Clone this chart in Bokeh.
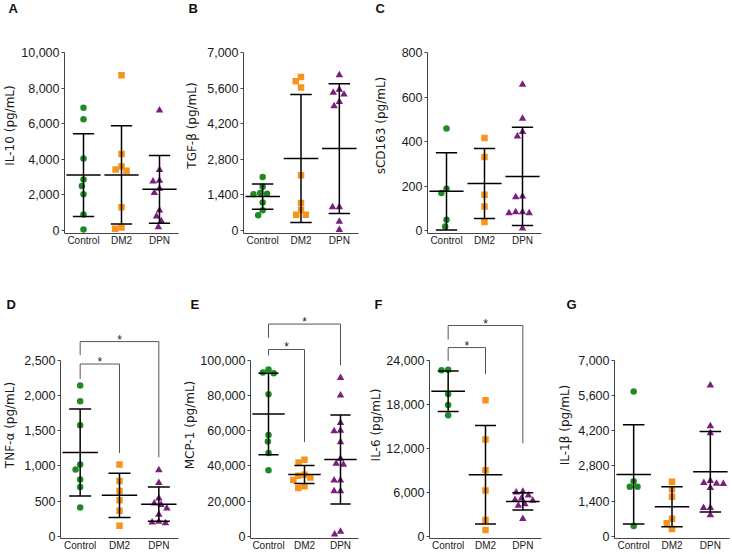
import math
from bokeh.plotting import figure
from bokeh.models import Range1d, FixedTicker, NumeralTickFormatter
from bokeh.layouts import column, row
from bokeh.embed import file_html
from bokeh.resources import INLINE
from bokeh.core.properties import value

groups = ["Control", "DM2", "DPN"]
group_colors = ["#1f8a24", "#f7941d", "#7b1f7f"]
group_markers = ["circle", "square", "triangle"]

# ---- A: IL-10 ----
il10_control = [6890, 6250, 4050, 2870, 2500, 2030, 900, 50]
il10_dm2 = [8720, 4300, 3600, 3360, 3430, 1310, 100, 170]
il10_dpn = [6750, 3410, 2800, 2760, 2350, 2120, 1130, 790, 530, 190]
il10_mean = [3115, 3125, 2315]
il10_sd = [2325, 2765, 1905]
il10_ticks = [0, 2000, 4000, 6000, 8000, 10000]

# ---- B: TGF-beta ----
tgfb_control = [2100, 1720, 1470, 1450, 1430, 1100, 800, 600]
tgfb_dm2 = [6040, 5870, 5620, 2170, 1080, 810, 620, 620]
tgfb_dpn = [6110, 5545, 5425, 5350, 5060, 4890, 920, 920, 355, 25]
tgfb_mean = [1335, 2830, 3220]
tgfb_sd = [495, 2520, 2550]
tgfb_ticks = [0, 1400, 2800, 4200, 5600, 7000]

# ---- C: sCD163 ----
scd163_control = [458, 188, 168, 48, 18]
scd163_dm2 = [416, 330, 161, 108, 38]
scd163_dpn = [656, 503, 443, 423, 153, 150, 83, 83, 78, 78, 10]
scd163_mean = [176, 211, 243]
scd163_sd = [174, 157, 221]
scd163_ticks = [0, 200, 400, 600, 800]

# ---- D: TNF-alpha ----
tnfa_control = [2140, 1916, 1575, 1019, 949, 808, 701, 411]
tnfa_dm2 = [1019, 785, 645, 514, 364, 154]
tnfa_dpn = [940, 760, 540, 470, 450, 400, 310, 210, 200, 190]
tnfa_mean = [1190, 584, 458]
tnfa_sd = [615, 313, 243]
tnfa_ticks = [0, 500, 1000, 1500, 2000, 2500]
# brackets: (group i, group j, top, left leg end, right leg end)
tnfa_brackets = [(0, 1, 2444, 2234, 1182), (0, 2, 2762, 2570, 1121)]

# ---- E: MCP-1 ----
mcp1_control = [94700, 92900, 92500, 80700, 57600, 53800, 47300, 37500]
mcp1_dm2 = [43500, 42000, 35000, 34500, 33500, 32000, 28500, 27500]
mcp1_dpn = [90000, 80000, 64400, 60000, 59700, 53500, 44100, 41300, 40700,
            31900, 31900, 25700, 25700, 2800, 1300]
mcp1_mean = [69400, 35150, 43650]
mcp1_sd = [23100, 5150, 25250]
mcp1_ticks = [0, 20000, 40000, 60000, 80000, 100000]
mcp1_brackets = [(0, 1, 106000, 102600, 53500), (0, 2, 120400, 112600, 97000)]

# ---- F: IL-6 ----
il6_control = [22700, 22600, 19400, 17900, 16500]
il6_dm2 = [18550, 13200, 9000, 6260, 2250, 900]
il6_dpn = [6100, 6000, 5600, 5200, 5000, 4900, 4400, 4200, 2400]
il6_mean = [19750, 8400, 4780]
il6_sd = [2750, 6700, 1170]
il6_ticks = [0, 6000, 12000, 18000, 24000]
il6_brackets = [(0, 1, 25700, 23900, 22100), (0, 2, 28700, 26800, 12700)]

# ---- G: IL-1beta ----
il1b_control = [5750, 2190, 1970, 1970, 420]
il1b_dm2 = [2170, 1880, 1580, 700, 530, 300]
il1b_dpn = [6000, 4380, 4100, 2210, 2130, 2100, 2090, 1930, 1140, 1140, 850]
il1b_mean = [2465, 1180, 2570]
il1b_sd = [1965, 790, 1600]
il1b_ticks = [0, 1400, 2800, 4200, 5600, 7000]

# ---------------- layout geometry (pixels) ----------------
COLS = [(180, 59, 2), (186, 63, 8), (187, 61, 12), (177, 61, 1)]  # width, border left, border right
COL_X = [0, 180, 366, 553]
ROWS = {
    "top": dict(height=262, btop=17, bbot=29, pad_top=35, pad_bot=3,
                title_valign="top", title_standoff=0),
    "bot": dict(height=291, btop=49, bbot=13, pad_top=49, pad_bot=2,
                title_valign="bottom", title_standoff=0),
}
SPAN = 178.0
FONT = "Liberation Sans"


def swarm(vals, ypx, xpx, dia):
    placed = []
    out = [0.0] * len(vals)
    order = sorted(range(len(vals)), key=lambda k: -vals[k])
    for k in order:
        y = vals[k] * ypx
        cands = [0.0]
        for (px, py) in placed:
            dy = abs(py - y)
            if dy < dia:
                w = math.sqrt(dia * dia - dy * dy)
                cands += [px - w, px + w]
        cands.sort(key=abs)
        chosen = 0.0
        for c in cands:
            if all((c - px) ** 2 + (y - py) ** 2 >= dia * dia - 1e-6 for px, py in placed):
                chosen = c
                break
        placed.append((chosen, y))
        out[k] = chosen / xpx
    return out


def make_panel(letter, ylabel, series, means, sds, ticks, col, rowkey,
               letter_x, label_standoff, brackets=None):
    width, bl, br = COLS[col]
    r = ROWS[rowkey]
    top = ticks[-1]
    y_start = -r["pad_bot"] * top / SPAN
    y_end = top + r["pad_top"] * top / SPAN
    p = figure(width=width, height=r["height"], output_backend="svg", toolbar_location=None,
               x_range=Range1d(0, 3), y_range=Range1d(y_start, y_end),
               min_border_left=bl, min_border_right=br,
               min_border_top=r["btop"], min_border_bottom=r["bbot"])
    p.outline_line_color = None
    p.grid.visible = False
    p.background_fill_color = "white"
    p.border_fill_color = "white"

    frame_w = width - bl - br
    xpx = frame_w / 3.0
    ypx = SPAN / top
    frame_left = COL_X[col] + bl

    # panel letter as title
    p.title.text = letter
    p.title.align = "left"
    p.title.offset = letter_x - frame_left
    p.title.vertical_align = r["title_valign"]
    p.title.standoff = r["title_standoff"]
    p.title.text_font = FONT
    p.title.text_font_size = "13px"
    p.title.text_font_style = "bold"
    p.title.text_color = "#111111"

    # y axis
    ya = p.yaxis[0]
    ya.ticker = FixedTicker(ticks=ticks)
    ya.formatter = NumeralTickFormatter(format="0,0")
    ya.bounds = (y_start, top)
    ya.major_tick_out = 3
    ya.major_tick_in = 0
    ya.minor_tick_out = 0
    ya.minor_tick_in = 0
    ya.major_label_standoff = 2
    ya.major_label_text_font = FONT
    ya.major_label_text_font_size = "12.5px"
    ya.major_label_text_color = "#1a1a1a"
    ya.axis_line_color = "#444444"
    ya.major_tick_line_color = "#444444"
    ya.axis_label = ylabel
    ya.axis_label_standoff = label_standoff
    ya.axis_label_text_font = "DejaVu Sans"
    ya.axis_label_text_font_size = "12px"
    ya.axis_label_text_font_style = "normal"
    ya.axis_label_text_color = "#1a1a1a"

    # x axis
    xa = p.xaxis[0]
    xa.ticker = FixedTicker(ticks=[0.5, 1.5, 2.5])
    xa.major_label_overrides = {0.5: groups[0], 1.5: groups[1], 2.5: groups[2]}
    xa.major_tick_out = 0
    xa.major_tick_in = 0
    xa.minor_tick_out = 0
    xa.minor_tick_in = 0
    xa.major_label_standoff = 1
    xa.major_label_text_font = FONT
    xa.major_label_text_font_size = "10px"
    xa.major_label_text_color = "#1a1a1a"
    xa.axis_line_color = "#444444"

    # brackets
    if brackets:
        for (i, j, ytop, yl, yr) in brackets:
            xi, xj = i + 0.5, j + 0.5
            p.line([xi, xi, xj, xj], [yl, ytop, ytop, yr], line_color="#555555", line_width=1)
            p.text(x=[(xi + xj) / 2], y=[ytop], text=["*"], text_align="center",
                   text_baseline="alphabetic", y_offset=-2,
                   text_font=value(FONT), text_font_size="12px", text_color="#222222")

    # points
    for g, vals in enumerate(series):
        dx = swarm(vals, ypx, xpx, 6.8)
        xs = [g + 0.5 + d for d in dx]
        size = 7.5 if group_markers[g] == "triangle" else 6.5
        p.scatter(xs, vals, marker=group_markers[g], size=size,
                  fill_color=group_colors[g], line_color=None)

    # mean +/- SD
    for g in range(3):
        xc = g + 0.5
        m, s = means[g], sds[g]
        lo = max(m - s, y_start)
        p.segment(x0=[xc], y0=[lo], x1=[xc], y1=[m + s], line_color="black", line_width=1.5)
        p.segment(x0=[xc - 0.28, xc - 0.28], y0=[m + s, lo], x1=[xc + 0.28, xc + 0.28],
                  y1=[m + s, lo], line_color="black", line_width=1.5)
        p.segment(x0=[xc - 0.45], y0=[m], x1=[xc + 0.45], y1=[m], line_color="black", line_width=1.5)
    return p


pA = make_panel("A", "IL-10 (pg/mL)", [il10_control, il10_dm2, il10_dpn], il10_mean, il10_sd,
                il10_ticks, 0, "top", 3, 1)
pB = make_panel("B", "TGF-β (pg/mL)", [tgfb_control, tgfb_dm2, tgfb_dpn], tgfb_mean, tgfb_sd,
                tgfb_ticks, 1, "top", 188, 5)
pC = make_panel("C", "sCD163 (pg/mL)", [scd163_control, scd163_dm2, scd163_dpn], scd163_mean,
                scd163_sd, scd163_ticks, 2, "top", 375, 11)
pD = make_panel("D", "TNF-α (pg/mL)", [tnfa_control, tnfa_dm2, tnfa_dpn], tnfa_mean, tnfa_sd,
                tnfa_ticks, 0, "bot", 5, 4, tnfa_brackets)
pE = make_panel("E", "MCP-1 (pg/mL)", [mcp1_control, mcp1_dm2, mcp1_dpn], mcp1_mean, mcp1_sd,
                mcp1_ticks, 1, "bot", 183, 0, mcp1_brackets)
pF = make_panel("F", "IL-6 (pg/mL)", [il6_control, il6_dm2, il6_dpn], il6_mean, il6_sd,
                il6_ticks, 2, "bot", 372, 0, il6_brackets)
pG = make_panel("G", "IL-1β (pg/mL)", [il1b_control, il1b_dm2, il1b_dpn], il1b_mean, il1b_sd,
                il1b_ticks, 3, "bot", 566, 3)

layout = column(row(pA, pB, pC, spacing=0), row(pD, pE, pF, pG, spacing=0), spacing=0)

with open("out.html", "w") as f:
    f.write(file_html(layout, INLINE))
